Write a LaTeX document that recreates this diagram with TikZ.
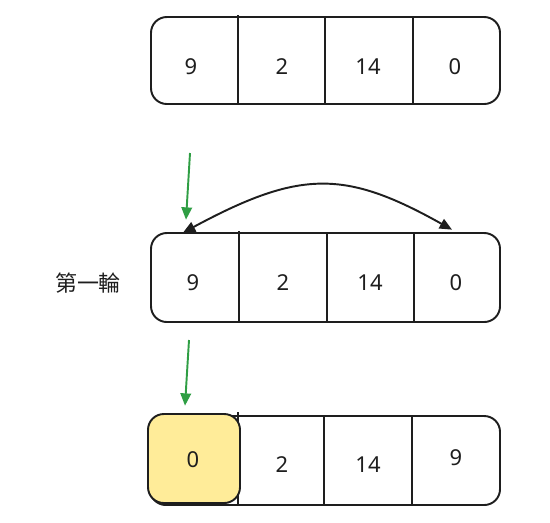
\documentclass[tikz,border=0pt]{standalone}
\usepackage{fontspec}
\setmainfont{Noto Sans}
\newfontfamily\cjk{Noto Sans CJK TC}
\usetikzlibrary{arrows.meta,calc}
\definecolor{ink}{HTML}{1E1E1E}
\definecolor{grn}{HTML}{2F9E44}
\definecolor{hl}{HTML}{FFEC99}
\begin{document}
\begin{tikzpicture}[x=.02cm,y=-.02cm,font=\fontsize{12.5}{15}\selectfont,
 box/.style={draw=ink,line width=1.1pt,rounded corners=9pt},
 sep/.style={draw=ink,line width=1.1pt},
 cell/.style={minimum width=1.7cm,minimum height=2cm,inner sep=0pt,text=ink},
 ptr/.style={draw=grn,line width=1.1pt,-{Triangle[length=7pt,width=6pt]}},
 swp/.style={draw=ink,line width=1.1pt,{Triangle[length=7pt,width=6pt]}-{Triangle[length=7pt,width=6pt]}}]
 \useasboundingbox (0,0) rectangle (550,522);
 % <<< row 1
 \draw[box] (151,17) rectangle (500,104);
 \draw[sep] (238,15)--(238,104) (325,17)--(325,104) (413,17)--(413,104);
 \path
 (191,67) node[cell] (a1) {9}
 ++(0:91) node[cell] (a2) {2}
 ++(0:86) node[cell] (a3) {14}
 ++(0:87) node[cell] (a4) {0};
 % <<< row 2
 \draw[box] (151,233) rectangle (500,322);
 \draw[sep] (239,231)--(239,322) (327,233)--(327,322) (414,233)--(414,322);
 \path
 (88,283) node[font=\cjk\fontsize{12.5}{15}\selectfont,text=ink] (lbl) {第一輪}
 (193,283) node[cell] (b1) {9}
 ++(0:90) node[cell] (b2) {2}
 ++(0:87) node[cell] (b3) {14}
 ++(0:86) node[cell] (b4) {0};
 \coordinate (g1) at (190,153);
 \draw[ptr] (g1)--($(b1.north)+(-7,-13)$);
 \draw[swp] ($(b4.north)+(-4,-3)$) .. controls +(-107,-60) and +(117,-63) .. ($(b1.north)+(-10,0)$);
 % <<< row 3
 \draw[box] (150,416) rectangle (500,505);
 \draw[sep] (238,412)--(238,505) (324,416)--(324,505) (412,416)--(412,505);
 \draw[box,fill=hl] (148,414) rectangle (240,503);
 \path
 (193,460) node[cell] (c1) {0}
 (282,465) node[cell] (c2) {2}
 ++(0:86) node[cell] (c3) {14}
 (456,458) node[cell] (c4) {9};
 \coordinate (g2) at (189,340);
 \draw[ptr] (g2)--($(c1.north)+(-8,-4)$);
\end{tikzpicture}
\end{document}
